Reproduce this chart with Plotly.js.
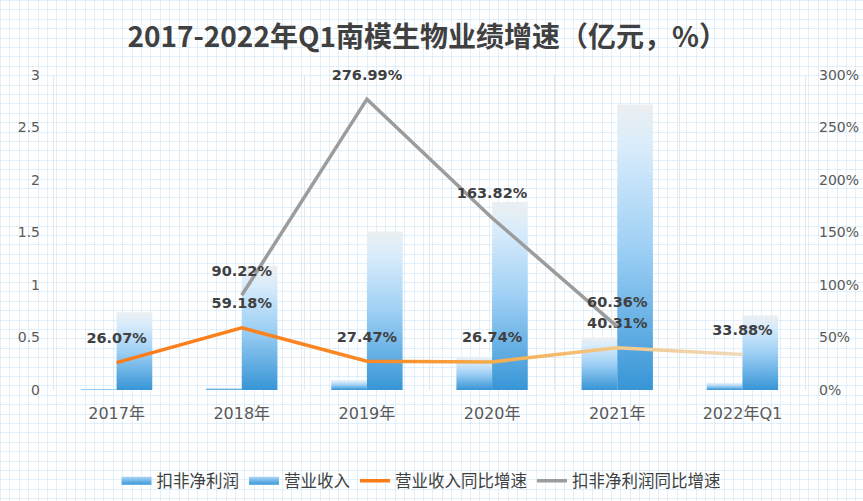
<!DOCTYPE html>
<html>
<head>
<meta charset="utf-8">
<script src="https://cdn.plot.ly/plotly-3.0.1.min.js"></script>
<style>
html,body{margin:0;padding:0;}
body{
  width:863px;height:501px;background-color:#ffffff;
  background-image:
    repeating-linear-gradient(to right, rgba(195,225,246,0.5) 0 1px, transparent 1px 9.4px),
    repeating-linear-gradient(to bottom, rgba(195,225,246,0.5) 0 1px, transparent 1px 9.4px);
}
#chart{width:863px;height:501px;}
</style>
</head>
<body>
<div id="chart"></div>
<script>
const categories = ['2017年','2018年','2019年','2020年','2021年','2022年Q1'];
const netProfit = [0.01, 0.02, 0.095, 0.31, 0.50, 0.07];          // 扣非净利润 (亿元)
const revenue = [0.74, 1.18, 1.51, 1.79, 2.72, 0.71];             // 营业收入 (亿元)
const revenueGrowth = [26.07, 59.18, 27.47, 26.74, 40.31, 33.88]; // 营业收入同比增速 (%)
const profitGrowth = [null, 90.22, 276.99, 163.82, 60.36, null];  // 扣非净利润同比增速 (%)
const leftTicks = [0, 0.5, 1, 1.5, 2, 2.5, 3];
const rightTicks = [0, 50, 100, 150, 200, 250, 300];

const latin = '"DejaVu Sans", "Noto Sans CJK SC", sans-serif';
const labelFont = {family:latin, size:14.5, color:'#404040', weight:700};
const pct = arr => arr.map(v => v == null ? '' : v.toFixed(2) + '%');

const traces = [
  {type:'bar', name:'扣非净利润', x:categories, y:netProfit, marker:{color:'#6fb6ea'}, hoverinfo:'none'},
  {type:'bar', name:'营业收入', x:categories, y:revenue, marker:{color:'#6fb6ea'}, hoverinfo:'none'},
  {type:'scatter', mode:'lines+text', name:'营业收入同比增速', x:categories, y:revenueGrowth, yaxis:'y2',
   line:{color:'#fa7d1a', width:3.5}, text:pct(revenueGrowth), textposition:'top center', textfont:labelFont, cliponaxis:false, hoverinfo:'none'},
  {type:'scatter', mode:'lines+text', name:'扣非净利润同比增速', x:categories, y:profitGrowth, yaxis:'y2',
   line:{color:'#9c9c9c', width:3.5}, text:pct(profitGrowth), textposition:'top center', textfont:labelFont, cliponaxis:false, hoverinfo:'none', connectgaps:false}
];

const tickFont = {family:latin, size:14, color:'#595959'};

const layout = {
  width:863, height:501,
  paper_bgcolor:'rgba(0,0,0,0)', plot_bgcolor:'rgba(0,0,0,0)',
  margin:{l:54, r:58, t:75, b:111},
  title:{text:'<b>2017-2022年Q1南模生物业绩增速（亿元，%）</b>', x:0.495, xanchor:'center', y:0.925, yanchor:'middle',
         font:{family:'"Noto Sans CJK SC", sans-serif', size:28, color:'#404040'}},
  barmode:'group', bargap:0.43, bargroupgap:0,
  xaxis:{type:'category', tickson:'boundaries', showgrid:true, gridcolor:'#e8e8e8', gridwidth:1.2, automargin:false,
         ticks:'', ticklabelstandoff:12, tickfont:{...tickFont, size:16}, showline:false, zeroline:false},
  yaxis:{range:[0,3], tickvals:leftTicks, ticktext:leftTicks.map(String), showgrid:false, zeroline:false, automargin:false,
         showline:true, linecolor:'#e8e8e8', linewidth:1.2, ticks:'', ticklabelstandoff:10, tickfont:tickFont},
  yaxis2:{range:[0,300], overlaying:'y', side:'right', tickvals:rightTicks, ticktext:rightTicks.map(v => v + '%'), automargin:false,
          showgrid:false, zeroline:false, showline:true, linecolor:'#e8e8e8', linewidth:1.2, ticks:'', ticklabelstandoff:10, tickfont:tickFont},
  showlegend:true,
  legend:{orientation:'h', xref:'container', x:0.135, xanchor:'left', yref:'container', y:0.04, yanchor:'middle', bgcolor:'rgba(0,0,0,0)',
          font:{family:'"Noto Sans CJK SC", sans-serif', size:16.5, color:'#404040'}, itemwidth:30, tracegroupgap:0, traceorder:'normal'}
};

Plotly.newPlot('chart', traces, layout, {displayModeBar:false, staticPlot:true}).then(gd => {
  const svgNS = 'http://www.w3.org/2000/svg';
  const svg = gd.querySelector('svg.main-svg');
  let defs = svg.querySelector('defs');
  if (!defs) { defs = document.createElementNS(svgNS, 'defs'); svg.insertBefore(defs, svg.firstChild); }
  function grad(id, vertical, stops) {
    const g = document.createElementNS(svgNS, 'linearGradient');
    g.setAttribute('id', id);
    g.setAttribute('x1', '0'); g.setAttribute('y1', '0');
    g.setAttribute('x2', vertical ? '0' : '1'); g.setAttribute('y2', vertical ? '1' : '0');
    stops.forEach(([o, c]) => {
      const s = document.createElementNS(svgNS, 'stop');
      s.setAttribute('offset', o); s.setAttribute('stop-color', c);
      g.appendChild(s);
    });
    defs.appendChild(g);
  }
  grad('barGrad', true, [['0','#eceff1'],['0.15','#d9ecfb'],['0.5','#9fd0f5'],['1','#3795d6']]);
  grad('legGrad', true, [['0','#a9d6f6'],['1','#3a98d8']]);
  grad('orangeGrad', false, [['0','#fb7b18'],['0.42','#fa8a26'],['0.6','#f6ab4a'],['0.8','#f3c889'],['1','#efdbbc']]);

  gd.querySelectorAll('.barlayer .point path').forEach(p => { p.style.fill = 'url(#barGrad)'; p.style.stroke = 'none'; });
  const lineTraces = gd.querySelectorAll('.scatterlayer .trace');
  if (lineTraces[0]) lineTraces[0].querySelectorAll('path.js-line').forEach(p => { p.style.stroke = 'url(#orangeGrad)'; });
  // lift the value labels a little further above their points
  gd.querySelectorAll('.scatterlayer .trace .text').forEach(g => { g.setAttribute('transform', 'translate(0,-16)'); });
  const legTraces = gd.querySelectorAll('.legend .traces');
  for (let i = 0; i < 2 && i < legTraces.length; i++) {
    legTraces[i].querySelectorAll('.legendpoints path').forEach(p => {
      p.setAttribute('d', 'M-15,-4H15V4H-15Z');
      p.style.fill = 'url(#legGrad)'; p.style.stroke = 'none';
    });
  }
});
</script>
</body>
</html>
